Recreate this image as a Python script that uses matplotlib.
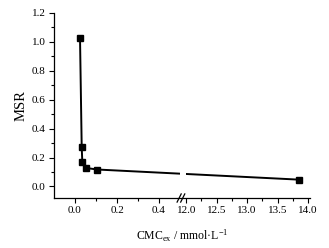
import numpy as np
import matplotlib
matplotlib.use("Agg")
import matplotlib.pyplot as plt
from matplotlib.scale import FuncScale

plt.rcParams['font.family'] = ['Liberation Serif', 'DejaVu Serif']
plt.rcParams['mathtext.fontset'] = 'custom'
plt.rcParams['mathtext.rm'] = 'Liberation Serif'
plt.rcParams['mathtext.it'] = 'Liberation Serif:italic'

# data
cmc = [0.024, 0.032, 0.035, 0.051, 0.106, 13.85]
msr = [1.025, 0.272, 0.166, 0.128, 0.117, 0.047]
xticks_major = [0.0, 0.2, 0.4, 12.0, 12.5, 13.0, 13.5, 14.0]
xticks_minor = [0.1, 0.3, 12.25, 12.75, 13.25, 13.75]
yticks_major = [0.0, 0.2, 0.4, 0.6, 0.8, 1.0, 1.2]

# broken-axis mapping
B1, B2 = 0.5, 12.0
G = 0.529
K = 0.29
MID = (G - B1) / (B2 - B1)

def fwd(x):
    x = np.asarray(x, dtype=float)
    return np.where(x <= B1, x,
                    np.where(x < B2, B1 + (x - B1) * MID, G + (x - B2) * K))

def inv(t):
    t = np.asarray(t, dtype=float)
    return np.where(t <= B1, t,
                    np.where(t < G, B1 + (t - B1) / MID, B2 + (t - G) / K))

XMIN, XMAX = -0.1, 14.03

fig = plt.figure(figsize=(3.29, 2.48), dpi=100)
ax = fig.add_axes([0.164, 0.2016, 0.778, 0.7464])
ax.set_xscale(FuncScale(ax, (fwd, inv)))

ax.plot(cmc, msr, color='black', lw=1.4, marker='s', ms=3.8, zorder=2)

ax.set_xlim(XMIN, XMAX)
ax.set_xticks(xticks_major)
ax.set_xticklabels([f"{v:.1f}" for v in xticks_major])
ax.set_xticks(xticks_minor, minor=True)
ax.set_yticks(yticks_major)
ax.set_yticklabels([f"{v:.1f}" for v in yticks_major])
ax.set_yticks(np.arange(-0.1, 1.15, 0.2), minor=True)
ax.set_ylim(-0.08, 1.2)

for s in ['top', 'right']:
    ax.spines[s].set_visible(False)
for s in ['left', 'bottom']:
    ax.spines[s].set_linewidth(0.9)
ax.tick_params(which='major', direction='out', length=3.5, width=0.8, labelsize=8, pad=2.5, colors='black')
ax.tick_params(which='minor', direction='out', length=2, width=0.8)

# gap in the line at the break
ax.axvspan(B1 + 0.01, B2 - 0.5, ymin=0.03, ymax=1.0, color='white', zorder=2.5, lw=0)
# break marks on the bottom spine
t0, t1 = float(fwd(XMIN)), float(fwd(XMAX))
xa = (float(fwd(6.0)) - t0) / (t1 - t0) - 0.008
for dx in (-0.007, 0.007):
    ax.plot([xa + dx - 0.008, xa + dx + 0.008], [-0.022, 0.022], transform=ax.transAxes,
            color='black', lw=0.9, clip_on=False, zorder=5)

ax.set_ylabel('MSR', fontsize=10.5, labelpad=3)
ax.set_xlabel('CMC$_{\\mathrm{ex}}$ / mmol·L$^{\\mathrm{-1}}$', fontsize=8.5, labelpad=9)

fig.savefig('out.png', dpi=100)
